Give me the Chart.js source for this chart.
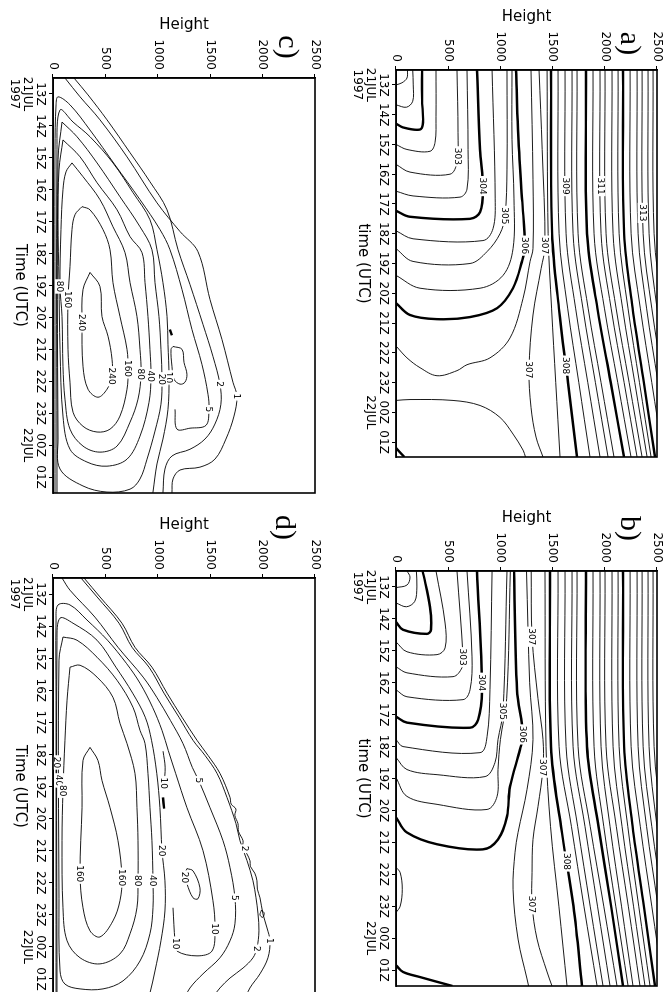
<!DOCTYPE html>
<html><head><meta charset="utf-8">
<script src="https://cdn.jsdelivr.net/npm/chart.js@4.4.1/dist/chart.umd.min.js"></script>
<style>
html,body{margin:0;padding:0;background:#fff;overflow:hidden;width:666px;height:992px;}
.panel{position:absolute;left:0;top:0;transform-origin:0 0;}
canvas{display:block;}
</style></head><body>
<div id="pa" class="panel"><canvas></canvas></div>
<div id="pb" class="panel"><canvas></canvas></div>
<div id="pc" class="panel"><canvas></canvas></div>
<div id="pd" class="panel"><canvas></canvas></div>
<script>
// ---------- axes ----------
const timeTicks = [13,14,15,16,17,18,19,20,21,22,23,24,25];
const timeTickLabels = [["13Z","21JUL","1997"],"14Z","15Z","16Z","17Z","18Z","19Z","20Z","21Z","22Z","23Z",["00Z","22JUL"],"01Z"];
const heightTicks = [0,500,1000,1500,2000,2500];
const timeRange = [12.5, 25.5];
const heightRange = [0, 2500];

// ---------- panel a : potential temperature (time [h UTC], height [m]) ----------
const a_thin = [
 [[13.0,0],[12.93,57],[12.77,105],[12.5,110]],
 [[13.67,0],[13.75,100],[13.55,160],[13.0,165],[12.5,160]],
 [[15.0,0],[15.17,105],[15.23,326],[14.93,374],[14.07,383],[12.5,383]],
 [[15.67,0],[15.93,134],[16.0,517],[15.6,584],[14.6,594],[12.5,584]],
 [[16.57,0],[16.73,163],[16.77,613],[16.5,680],[15.17,690],[12.5,680]],
 [[17.9,0],[18.17,163],[18.23,833],[17.83,929],[16.83,950],[12.5,920]],
 [[18.5,0],[18.93,163],[19.0,709],[18.6,872],[18.0,996],[17.4,1044],[15.83,1063],[12.5,1063]],
 [[19.4,0],[19.83,230],[19.83,805],[19.4,1025],[18.5,1121],[16.83,1130],[14.83,1111],[12.5,1111]],
 [[21.77,0],[22.17,105],[22.5,230],[22.77,393],[22.6,584],[22.4,680],[22.17,900],[21.5,1092],[20.17,1217],[18.93,1284],[18.5,1312],[16.17,1312],[12.5,1293]],
 [[12.5,1370],[15.17,1400],[18.4,1427],[19.17,1390],[20.73,1312],[22.57,1274],[23.83,1293],[24.83,1341],[25.5,1408]],
 [[23.6,0],[23.57,134],[23.6,546],[23.77,805],[24.17,996],[24.73,1121],[25.27,1217],[25.5,1240]],
 [[12.5,1447],[18,1457],[20.5,1490],[23,1530],[25.5,1571]],
 [[12.5,1552],[18,1562],[20.5,1644],[23,1751],[25.5,1858]],
 [[12.5,1619],[18,1629],[20.5,1720],[23,1837],[25.5,1954]],
 [[12.5,1686],[18,1696],[20.5,1790],[23,1910],[25.5,2031]],
 [[12.5,1734],[18,1744],[20.5,1840],[23,1964],[25.5,2088]],
 [[12.5,1887],[18,1897],[20.5,1996],[23,2124],[25.5,2251]],
 [[12.5,1954],[18,1964],[20.5,2060],[23,2185],[25.5,2309]],
 [[12.5,2002],[18,2012],[20.5,2108],[23,2233],[25.5,2357]],
 [[12.5,2069],[18,2079],[20.5,2170],[23,2287],[25.5,2405]],
 [[12.5,2127],[18,2137],[20.5,2222],[23,2332],[25.5,2443]],
 [[12.5,2242],[18,2252],[20.5,2340],[23,2450],[25.5,2560]],
 [[12.5,2309],[18,2319],[20.5,2400],[23,2510],[25.5,2620]],
 [[12.5,2357],[18,2367],[20.5,2450],[23,2560],[25.5,2670]],
 [[12.5,2414],[18,2424],[20.5,2500],[23,2610]],
 [[12.5,2462],[18,2472],[20.5,2550]]
];
const a_thick = [
 [[14.3,0],[14.43,67],[14.5,230],[14.27,259],[13.5,250],[12.5,250]],
 [[17.23,0],[17.43,134],[17.5,709],[17.27,805],[16.5,833],[15.17,805],[12.5,776]],
 [[20.33,0],[20.73,134],[20.87,393],[20.8,709],[20.5,968],[19.83,1121],[18.93,1207],[18.4,1236],[16.83,1207],[14.5,1169],[12.5,1150]],
 [[25.2,0],[25.5,80]],
 [[12.5,1485],[18,1495],[20.5,1560],[23,1647],[25.5,1734]],
 [[12.5,1820],[18,1830],[20.5,1929],[23,2057],[25.5,2184]],
 [[12.5,2175],[18,2185],[20.5,2267],[23,2374],[25.5,2481]]
];
const a_labels = [[15.4,590,"303"],[16.4,830,"304"],[17.4,1044,"305"],[18.4,1236,"306"],[18.4,1427,"307"],[22.57,1274,"307"],[22.43,1627,"308"],[16.4,1625,"309"],[16.4,1960,"311"],[17.3,2362,"313"]];

// ---------- panel b ----------
const b_thin = [
 [[13.02,0],[12.94,105],[12.69,134],[12.5,105]],
 [[13.5,0],[13.62,100],[13.45,180],[13.0,200],[12.5,195]],
 [[14.72,0],[15.03,105],[15.12,393],[14.91,470],[14.13,470],[12.5,383]],
 [[15.5,0],[15.69,105],[15.81,546],[15.53,632],[15.19,642],[12.5,584]],
 [[16.22,0],[16.44,105],[16.53,642],[16.22,709],[15.19,728],[12.5,680]],
 [[17.78,0],[18.0,67],[18.19,805],[17.69,872],[16.22,900],[12.5,920]],
 [[18.34,0],[18.72,105],[18.88,393],[18.94,853],[18.5,948],[17.78,977],[16.9,1025],[12.5,1063]],
 [[18.97,0],[19.56,105],[19.81,393],[19.97,872],[19.56,968],[18.72,977],[17.78,1000],[16.5,1060],[12.5,1095]],
 [[12.5,1250],[16.0,1280],[17.78,1312],[19.34,1255],[20.69,1169],[21.31,1140],[22.47,1121],[24.03,1169],[25.28,1255],[25.5,1270]],
 [[12.5,1295],[14.56,1303],[16.5,1360],[17.78,1408],[18.66,1408],[19.88,1360],[20.91,1312],[21.94,1303],[22.94,1303],[24.03,1351],[25.06,1447],[25.5,1494]],
 [[21.78,0],[21.95,40],[22.47,60],[23.0,40],[23.2,0]],
 [[12.5,1427],[18,1437],[20.5,1480],[23,1560],[25.5,1638]],
 [[12.5,1552],[18,1562],[20.5,1680],[23,1800],[25.5,1926]],
 [[12.5,1619],[18,1629],[20.5,1740],[23,1860],[25.5,1983]],
 [[12.5,1686],[18,1696],[20.5,1810],[23,1930],[25.5,2050]],
 [[12.5,1734],[18,1744],[20.5,1860],[23,1990],[25.5,2117]],
 [[12.5,1887],[18,1897],[20.5,1990],[23,2105],[25.5,2223]],
 [[12.5,1954],[18,1964],[20.5,2050],[23,2160],[25.5,2270]],
 [[12.5,2002],[18,2012],[20.5,2110],[23,2225],[25.5,2337]],
 [[12.5,2069],[18,2079],[20.5,2165],[23,2275],[25.5,2385]],
 [[12.5,2127],[18,2137],[20.5,2220],[23,2325],[25.5,2433]],
 [[12.5,2242],[18,2252],[20.5,2340],[23,2450],[25.5,2560]],
 [[12.5,2309],[18,2319],[20.5,2400],[23,2510],[25.5,2620]],
 [[12.5,2357],[18,2367],[20.5,2450],[23,2560],[25.5,2670]],
 [[12.5,2414],[18,2424],[20.5,2500],[23,2610]],
 [[12.5,2462],[18,2472],[20.5,2550]]
];
const b_thick = [
 [[14.1,0],[14.34,67],[14.47,297],[14.34,335],[13.63,326],[12.5,255]],
 [[17.06,0],[17.25,105],[17.41,709],[17.16,786],[16.22,824],[12.5,776]],
 [[20.22,0],[20.69,105],[21.06,393],[21.22,833],[20.91,977],[20.19,1063],[19.25,1092],[18.09,1188],[17.62,1217],[16.22,1159],[12.5,1131]],
 [[24.85,0],[25.06,67],[25.22,230],[25.5,540]],
 [[12.5,1475],[18,1485],[20.5,1580],[23,1700],[25.5,1782]],
 [[12.5,1820],[18,1830],[20.5,1940],[23,2060],[25.5,2175]],
 [[12.5,2175],[18,2185],[20.5,2267],[23,2374],[25.5,2481]]
];
const b_labels = [[15.2,640,"303"],[16.0,822,"304"],[16.9,1025,"305"],[17.62,1217,"306"],[14.56,1303,"307"],[18.66,1408,"307"],[22.94,1303,"307"],[21.6,1633,"308"]];

// ---------- panel c ----------
const c_thin = [
 [[12.5,114],[13.09,258],[13.81,448],[14.97,706],[16.41,992],[17.31,1212],[17.94,1383],[19.44,1498],[20.69,1612],[22.03,1717],[22.47,1755],[23.09,1727],[23.81,1650],[24.44,1545],[24.69,1402],[24.78,1212],[25.06,1145],[25.5,1135]],
 [[12.5,200],[13.03,334],[13.81,515],[14.84,735],[15.75,925],[16.63,1088],[17.88,1193],[18.97,1307],[20.22,1431],[21.22,1526],[22.09,1593],[22.72,1602],[23.34,1545],[23.81,1450],[24.13,1307],[24.34,1135],[24.75,1068],[25.5,1049]],
 [[25.7,19],[19.44,19],[14.75,19],[13.34,29],[13.09,48],[13.34,162],[14.13,353],[15.22,591],[16.31,830],[17.25,1021],[17.88,1116],[19.13,1231],[20.38,1326],[21.47,1421],[22.41,1479],[22.88,1488],[23.38,1460],[23.47,1307],[23.5,1183],[22.88,1164]],
 [[25.7,38],[14.75,38],[13.5,67],[13.88,191],[14.34,353],[15.16,572],[16.09,763],[16.94,925],[17.88,992],[18.91,1049],[19.97,1088],[20.84,1097],[21.88,1107],[22.88,1097],[23.81,1049],[24.59,992],[25.47,954],[25.7,944]],
 [[13.88,86],[14.34,229],[15.16,420],[16.22,639],[17.16,830],[17.88,944],[18.91,973],[19.97,1011],[21.0,1030],[21.94,1040],[22.72,1030],[23.56,973],[24.44,897],[25.06,830],[25.38,735],[25.47,515],[25.28,286],[24.75,67],[23.81,48],[15.06,48],[13.88,86]],
 [[14.44,95],[14.97,258],[15.78,420],[16.63,611],[17.47,735],[17.97,849],[18.91,878],[19.97,906],[21.0,925],[21.84,935],[22.66,916],[23.72,830],[24.44,706],[24.66,515],[24.53,324],[24.13,162],[23.09,95],[21.0,67],[18.91,57],[16.94,48],[15.38,57],[14.44,95]],
 [[15.16,181],[15.59,286],[16.31,448],[17.16,572],[17.97,687],[18.91,735],[19.97,801],[21.0,830],[21.78,840],[22.56,811],[23.28,735],[24.03,611],[24.22,448],[24.03,286],[23.5,162],[22.56,114],[21.53,95],[19.97,86],[19.03,67],[17.25,76],[16.0,95],[15.44,124],[15.16,181]],
 [[16.53,277],[16.63,353],[17.25,477],[17.88,544],[18.91,572],[19.97,639],[21.0,706],[21.63,716],[22.25,706],[23.09,639],[23.5,544],[23.59,420],[23.41,286],[22.97,191],[22.03,162],[21.0,143],[19.44,143],[18.41,162],[17.25,181],[16.78,210],[16.53,277]],
 [[18.59,353],[19.03,448],[19.97,467],[20.59,525],[21.31,563],[21.84,563],[22.25,515],[22.5,429],[22.25,334],[21.53,286],[20.16,277],[19.13,286],[18.59,353]],
 [[20.91,1145],[21.0,1231],[21.41,1250],[21.78,1278],[22.03,1259],[22.09,1212],[21.94,1155],[21.53,1135],[21.0,1126],[20.91,1145]]
];
const c_thick = [
 [[20.38,1116],[20.56,1135]]
];
const c_labels = [[22.47,1755,"1"],[22.09,1593,"2"],[22.88,1488,"5"],[21.88,1107,"10"],[21.94,1040,"20"],[21.84,935,"40"],[21.78,840,"80"],[21.6,716,"160"],[21.84,563,"240"],[20.16,277,"240"],[19.44,143,"160"],[19.03,67,"80"]];

// ---------- panel d ----------
const d_thin = [
 [[12.5,296],[13.09,448],[13.91,658],[14.66,782],[15.28,944],[16.09,1088],[16.84,1231],[17.56,1374],[18.03,1479],[18.59,1593],[19.34,1689],[19.55,1700],[19.7,1745],[19.9,1735],[20.16,1765],[20.4,1770],[20.69,1813],[20.9,1810],[21.1,1850],[21.31,1879],[21.5,1885],[21.7,1925],[21.94,1946],[22.2,1950],[22.47,1975],[22.97,2003],[23.41,2042],[23.81,2070],[24.34,2051],[24.84,1975],[25.28,1879],[25.7,1822]],
 [[12.5,267],[13.09,420],[13.91,630],[14.66,754],[15.28,916],[16.09,1059],[16.84,1202],[17.56,1336],[18.03,1450],[18.59,1565],[19.34,1660],[20.16,1746],[20.69,1784],[21.31,1851],[21.94,1908],[22.47,1937],[22.97,1956],[23.5,1965],[24.03,1946],[24.34,1908],[24.66,1813],[24.97,1689],[25.28,1593],[25.6,1517]],
 [[12.5,86],[12.88,162],[13.72,400],[14.66,620],[15.59,860],[16.22,990],[16.94,1120],[17.66,1240],[18.41,1330],[18.81,1390],[19.66,1498],[20.69,1622],[21.53,1689],[22.47,1736],[23.28,1736],[23.81,1689],[24.34,1593],[24.84,1431],[25.28,1307],[25.7,1240]],
 [[25.7,29],[16.31,29],[13.81,29],[13.34,48],[13.34,162],[13.81,324],[14.44,520],[15.16,700],[15.78,830],[16.53,950],[17.25,1040],[17.88,1100],[18.59,1170],[19.66,1278],[21.0,1431],[22.56,1526],[23.44,1545],[24.13,1517],[24.28,1374],[24.13,1183],[23.81,1164],[22.78,1145]],
 [[25.7,38],[14.44,38],[13.75,67],[13.91,191],[14.44,420],[15.28,600],[16.09,760],[16.84,880],[17.56,940],[18.59,990],[19.66,1020],[21.0,1040],[21.94,1068],[22.88,1068],[23.81,1030],[24.75,973],[25.44,925],[25.7,897]],
 [[14.34,95],[14.44,229],[14.97,420],[15.69,611],[16.53,763],[17.25,830],[17.66,878],[18.59,906],[19.66,925],[20.69,944],[21.94,954],[22.78,954],[23.59,925],[24.44,830],[25.06,668],[25.31,477],[25.31,258],[25.16,114],[24.75,67],[22.5,57],[15.06,57],[14.34,95]],
 [[15.28,162],[15.22,258],[15.59,420],[16.22,572],[17.03,639],[17.66,706],[18.59,782],[19.66,801],[20.69,811],[21.94,811],[22.78,801],[23.59,735],[24.22,639],[24.53,448],[24.34,258],[23.81,134],[22.78,95],[20.69,86],[19.13,95],[17.56,114],[16.31,134],[15.28,162]],
 [[17.78,353],[18.19,429],[18.81,467],[19.66,544],[20.69,620],[21.84,658],[22.56,639],[23.19,572],[23.69,448],[23.5,353],[22.78,286],[21.72,258],[19.66,277],[18.19,286],[17.78,353]],
 [[21.56,1278],[21.63,1336],[22.16,1402],[22.5,1383],[22.47,1336],[22.03,1278],[21.72,1259],[21.56,1278]],
 [[17.9,1050],[18.4,1070],[18.9,1060]],
 [[22.85,1990],[22.95,2015],[23.08,2000],[23.0,1975],[22.85,1990]]
];
const d_thick = [
 [[19.34,1050],[19.69,1060]]
];
const d_labels = [[23.81,2070,"1"],[20.94,1830,"2"],[24.06,1946,"2"],[18.81,1390,"5"],[22.47,1736,"5"],[23.44,1545,"10"],[23.9,1170,"10"],[18.9,1060,"10"],[21.0,1040,"20"],[21.84,1259,"20"],[18.25,38,"20"],[21.94,954,"40"],[18.81,57,"40"],[21.94,811,"80"],[19.13,95,"80"],[21.84,658,"160"],[21.72,258,"160"]];

// ---------- drawing ----------
const FONT = 'DejaVu Sans';
function mkDs(line, w) {
  return {data: line.map(p => ({x:p[0], y:p[1]})), showLine:true, borderColor:'#000', borderWidth:w,
          pointRadius:0, pointHoverRadius:0, tension:0.35, fill:false, clip:0};
}
function makePanel(id, geo, thin, thick, labels, xTitle, letter, letterOff) {
  const PW = geo.r - geo.l, PH = geo.b - geo.t;
  const W0 = 70 + PH + 15, H0 = 9 + PW + 60;
  const Lx = geo.r + 9, Ty = geo.t - 70;
  const div = document.getElementById(id);
  div.style.transform = 'translate(' + Lx + 'px,' + Ty + 'px) rotate(90deg)';
  const cv = div.querySelector('canvas');
  cv.width = W0; cv.height = H0;
  const ds = [];
  thin.forEach(l => ds.push(mkDs(l, 0.9)));
  thick.forEach(l => ds.push(mkDs(l, 2.4)));
  const deco = {
    id: 'deco_' + id,
    afterDatasetsDraw(chart) {
      const {ctx, chartArea:a, scales:{x, y}} = chart;
      ctx.save();
      ctx.beginPath(); ctx.rect(a.left, a.top, a.right - a.left, a.bottom - a.top); ctx.clip();
      ctx.font = '9px "' + FONT + '"'; ctx.textAlign = 'center'; ctx.textBaseline = 'middle';
      labels.forEach(L => {
        const px = x.getPixelForValue(L[0]), py = y.getPixelForValue(L[1]);
        const w = ctx.measureText(L[2]).width + 3;
        ctx.fillStyle = '#fff'; ctx.fillRect(px - w/2, py - 5, w, 10);
        ctx.fillStyle = '#000'; ctx.fillText(L[2], px, py + 0.5);
      });
      ctx.restore();
      ctx.save();
      ctx.strokeStyle = '#000'; ctx.lineWidth = 1.6;
      ctx.strokeRect(a.left, a.top, a.right - a.left, a.bottom - a.top);
      ctx.font = '30px "Liberation Serif"'; ctx.textAlign = 'center'; ctx.textBaseline = 'middle';
      ctx.fillStyle = '#000';
      ctx.fillText(letter, a.left - letterOff[0], a.top + letterOff[1]);
      ctx.restore();
    }
  };
  const gridOpt = {display:true, drawOnChartArea:false, drawTicks:true, tickLength:4, color:'#000', lineWidth:1};
  new Chart(cv, {
    type: 'scatter',
    data: {datasets: ds},
    options: {
      responsive:false, animation:false, devicePixelRatio:1, events:[],
      layout:{padding:{left:0, top:9, right:15, bottom:0}},
      plugins:{legend:{display:false}, tooltip:{enabled:false}, title:{display:false}},
      scales:{
        x:{type:'linear', position:'bottom', min:timeRange[0], max:timeRange[1],
           afterBuildTicks: s => { s.ticks = timeTicks.map(v => ({value:v})); },
           afterFit: s => { s.height = 60; s.paddingLeft = 0; s.paddingRight = 0; },
           ticks:{autoSkip:false, maxRotation:0, minRotation:0, color:'#000', padding:2,
                  font:{family:FONT, size:12, lineHeight:1.1},
                  callback: v => { const i = timeTicks.indexOf(v); return i >= 0 ? timeTickLabels[i] : ''; }},
           grid: gridOpt,
           border:{display:true, color:'#000', width:1.5},
           title:{display:true, text:xTitle, color:'#000', font:{family:FONT, size:15}, padding:{top:0, bottom:18}}
        },
        y:{type:'linear', position:'left', min:heightRange[0], max:heightRange[1],
           afterBuildTicks: s => { s.ticks = heightTicks.map(v => ({value:v})); },
           afterFit: s => { s.width = 70; s.paddingTop = 0; s.paddingBottom = 0; },
           ticks:{color:'#000', padding:4, font:{family:FONT, size:12}, callback: v => String(v)},
           grid: gridOpt,
           border:{display:true, color:'#000', width:1.5},
           title:{display:true, text:'Height', color:'#000', font:{family:FONT, size:15}, padding:{top:8, bottom:0}}
        }
      }
    },
    plugins:[deco]
  });
}
makePanel('pa', {l:396, t:70, r:657, b:457}, a_thin, a_thick, a_labels, 'time (UTC)', 'a)', [26.5, 28]);
makePanel('pb', {l:396, t:571, r:657, b:986}, b_thin, b_thick, b_labels, 'time (UTC)', 'b)', [42.5, 28]);
makePanel('pc', {l:53, t:78, r:315, b:493}, c_thin, c_thick, c_labels, 'Time (UTC)', 'c)', [31, 28]);
makePanel('pd', {l:53, t:578, r:315, b:995}, d_thin, d_thick, d_labels, 'Time (UTC)', 'd)', [50.5, 31]);
</script>
</body></html>
